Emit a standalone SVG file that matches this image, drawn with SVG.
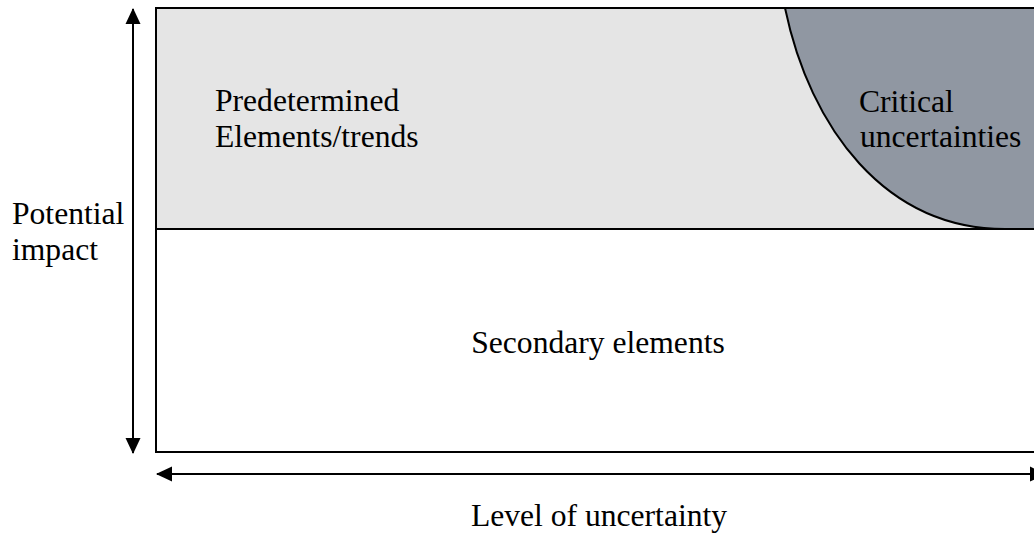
<svg xmlns="http://www.w3.org/2000/svg" width="1034" height="536" viewBox="0 0 1034 536">
  <style>
    .lbl { font-family: "Liberation Serif", "Times New Roman", serif; font-size: 31.6px; fill: #000; }
    .edge { stroke: #000; stroke-width: 2; fill: none; }
    .axis { stroke: #000; stroke-width: 2; fill: none; }
  </style>
  <defs>
    <marker id="arrow" viewBox="0 0 16 16" refX="15" refY="8" markerWidth="16" markerHeight="16" markerUnits="userSpaceOnUse" orient="auto-start-reverse">
      <path d="M0,0.5 L16,8 L0,15.5 Z" fill="#000"/>
    </marker>
    <clipPath id="upper-clip">
      <rect x="156" y="8" width="900" height="221"/>
    </clipPath>
  </defs>

  <rect width="1034" height="536" fill="#fff"/>

  <!-- upper band: predetermined elements -->
  <g id="predetermined">
    <rect x="156" y="8" width="900" height="221" fill="#e5e5e5"/>
    <text class="lbl" x="215" y="111">Predetermined</text>
    <text class="lbl" x="215" y="147">Elements/trends</text>
  </g>

  <!-- shaded corner: critical uncertainties -->
  <g id="critical">
    <path d="M785,8 C810,128 885,229 1005,229 L1056,229 L1056,8 Z" fill="#9097a2" clip-path="url(#upper-clip)"/>
    <path class="edge" d="M785,8 C810,128 885,229 1005,229"/>
    <text class="lbl" x="859" y="112">Critical</text>
    <text class="lbl" x="860" y="147">uncertainties</text>
  </g>

  <!-- lower band: secondary elements -->
  <g id="secondary">
    <rect x="156" y="229" width="900" height="223" fill="#fff"/>
    <text class="lbl" x="598" y="353" text-anchor="middle">Secondary elements</text>
  </g>

  <!-- frame and divider -->
  <g id="frame">
    <rect class="edge" x="156" y="8" width="900" height="444"/>
    <line class="edge" x1="156" y1="229" x2="1056" y2="229"/>
  </g>

  <!-- axis titles -->
  <g id="axis-y-label">
    <text class="lbl" x="12" y="224">Potential</text>
    <text class="lbl" x="12" y="260">impact</text>
  </g>
  <g id="axis-x-label">
    <text class="lbl" x="599" y="526" text-anchor="middle">Level of uncertainty</text>
  </g>

  <!-- axis arrows -->
  <g id="connectors">
    <line class="axis" x1="133" y1="9" x2="133" y2="453" marker-start="url(#arrow)" marker-end="url(#arrow)"/>
    <line class="axis" x1="157" y1="474" x2="1045" y2="474" marker-start="url(#arrow)" marker-end="url(#arrow)"/>
  </g>
</svg>
